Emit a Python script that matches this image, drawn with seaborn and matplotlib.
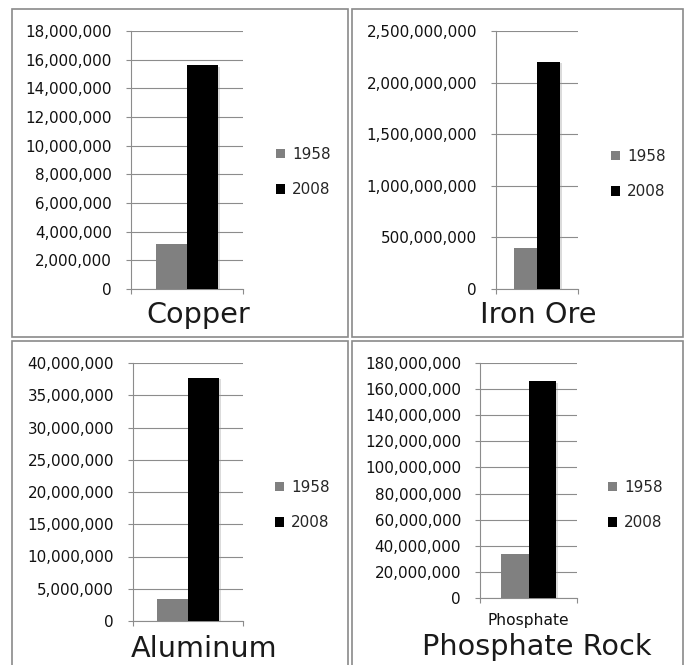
import pandas as pd
import matplotlib
matplotlib.use("Agg")
import matplotlib.pyplot as plt
import matplotlib.patheffects as pe
from matplotlib.patches import Rectangle, Patch
from matplotlib.ticker import FuncFormatter, MultipleLocator
import seaborn as sns

# data
minerals = ["Copper", "Iron Ore", "Aluminum", "Phosphate Rock"]
years = ["1958", "2008"]
values_1958 = [3_150_000, 400_000_000, 3_400_000, 33_500_000]
values_2008 = [15_600_000, 2_200_000_000, 37_700_000, 166_000_000]
y_max = [18_000_000, 2_500_000_000, 40_000_000, 180_000_000]
y_step = [2_000_000, 500_000_000, 5_000_000, 20_000_000]
cat_labels = ["", "", "", "Phosphate"]

colors = {"1958": "#808080", "2008": "#000000"}

W, H = 686, 665
def fx(px): return px / W
def fy(py): return 1 - py / H

# layout in pixels: axes box (x0, y0, x1, y1), legend (x, ycenter), title (xcenter, baseline)
axes_px = [(131, 31, 243, 289), (496, 31, 578, 289), (133, 363, 243, 621), (480, 363, 577, 598)]
legend_px = [(276, 172), (611, 174), (275, 505), (608, 505)]
title_px = [(198, 323), (538, 323), (204, 657), (537, 655)]
border_px = [(11.5, 9, 347.5, 337), (351.5, 9, 683, 337), (11.5, 341, 347.5, 672), (351.5, 341, 683, 672)]

sns.set_theme(style="white")
plt.rcParams["font.family"] = ["DejaVu Sans"]

fig = plt.figure(figsize=(6.86, 6.65), dpi=100)
grey = "#8c8c8c"
tick_fs = 10.9

for i, name in enumerate(minerals):
    x0, y0, x1, y1 = axes_px[i]
    ax = fig.add_axes([fx(x0), fy(y1), (x1 - x0) / W, (y1 - y0) / H])
    df = pd.DataFrame({"mineral": [name, name], "year": years,
                       "value": [values_1958[i], values_2008[i]]})
    sns.barplot(data=df, x="mineral", y="value", hue="year", palette=colors,
                width=0.56, saturation=1, ax=ax, zorder=3, legend=False)
    for p in ax.patches:
        p.set_edgecolor("none")
        p.set_path_effects([pe.SimplePatchShadow(offset=(1.5, -1), shadow_rgbFace="#999999", alpha=0.35),
                            pe.Normal()])

    ax.set_xlim(-0.5, 0.5)
    ax.set_ylim(0, y_max[i])
    ax.yaxis.set_major_locator(MultipleLocator(y_step[i]))
    ax.yaxis.set_major_formatter(FuncFormatter(lambda v, _: f"{v:,.0f}"))
    ax.yaxis.grid(True, color=grey, lw=0.8, zorder=0)
    ax.set_axisbelow(True)
    ax.set_xlabel("")
    ax.set_ylabel("")

    ax.set_xticks([0])
    ax.set_xticklabels([cat_labels[i]])
    ax.set_xticks([-0.5, 0.5], minor=True)
    ax.tick_params(axis="x", which="major", length=0, pad=11, labelsize=11.2, labelcolor="#111111")
    ax.tick_params(axis="x", which="minor", direction="out", length=3.6, width=0.8, color=grey, bottom=True)
    ax.tick_params(axis="y", direction="out", length=3.6, width=0.8, color=grey, left=True,
                   pad=10, labelsize=tick_fs, labelcolor="#111111")

    for s in ["top", "right"]:
        ax.spines[s].set_visible(False)
    for s in ["left", "bottom"]:
        ax.spines[s].set_color(grey)
        ax.spines[s].set_linewidth(0.8)

    handles = [Patch(facecolor=colors[y], edgecolor="none") for y in years]
    lx, ly = legend_px[i]
    ax.legend(handles, years, loc="center left", bbox_to_anchor=(fx(lx), fy(ly)),
              bbox_transform=fig.transFigure, frameon=False, borderpad=0, borderaxespad=0,
              fontsize=tick_fs, handlelength=0.6, handleheight=0.6, handletextpad=0.45,
              labelspacing=1.35)

    tx, tb = title_px[i]
    fig.text(fx(tx), fy(tb), name, ha="center", va="baseline", fontsize=20.7, color="#1a1a1a")

    bx0, by0, bx1, by1 = border_px[i]
    fig.patches.append(Rectangle((fx(bx0), fy(by1)), (bx1 - bx0) / W, (by1 - by0) / H,
                                 transform=fig.transFigure, fill=False, edgecolor="#8a8a8a", lw=1.2))

plt.savefig("out.png", dpi=100, facecolor="white")
